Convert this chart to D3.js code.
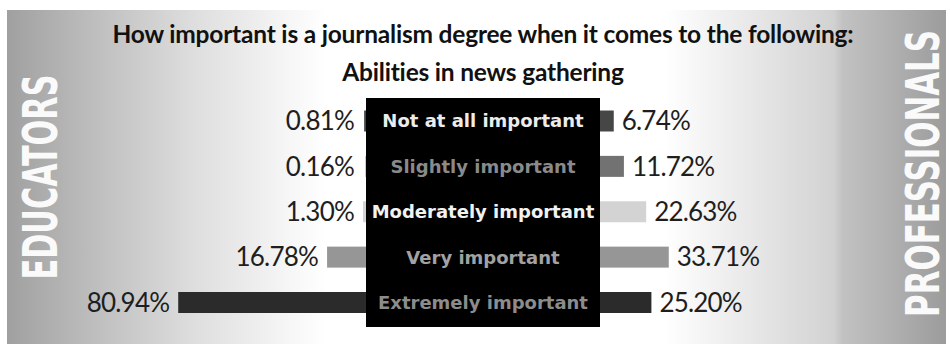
<!DOCTYPE html>
<html>
<head>
<meta charset="utf-8">
<script src="https://cdn.jsdelivr.net/npm/d3@7"></script>
<style>
  html, body { margin: 0; padding: 0; background: #fff; }
  svg { display: block; }
</style>
</head>
<body>
<div id="chart"></div>
<script>
// data
const categories = ["Not at all important", "Slightly important", "Moderately important", "Very important", "Extremely important"];
const educators = [0.81, 0.16, 1.30, 16.78, 80.94];
const professionals = [6.74, 11.72, 22.63, 33.71, 25.20];
const barColors = ["#464646", "#727272", "#d3d3d3", "#969696", "#2b2b2b"];
const labelColors = ["#ececec", "#8a8a8a", "#f2f2f2", "#a2a2a2", "#8c8c8c"];
const title = "How important is a journalism degree when it comes to the following:";
const subtitle = "Abilities in news gathering";

const width = 950, height = 345;
const box = {left: 366, right: 600, top: 98, bottom: 327};
const cx = (box.left + box.right) / 2;
const barH = 21;

const svg = d3.select("#chart").append("svg")
  .attr("width", width)
  .attr("height", height);

// background panel with grey fades at both sides
const grad = svg.append("defs").append("linearGradient")
  .attr("id", "bg")
  .attr("x1", "0%").attr("x2", "100%");
[[0, "#a0a0a0"], [0.1, "#c0c0c0"], [0.2, "#dedede"], [0.3, "#f6f6f6"], [0.34, "#ffffff"],
 [0.7, "#ffffff"], [0.78, "#ebebeb"], [0.88, "#d2d2d2"], [0.89, "#c2c2c2"], [1, "#9c9c9c"]]
  .forEach(d => grad.append("stop").attr("offset", d[0]).attr("stop-color", d[1]));

svg.append("rect")
  .attr("x", 7).attr("y", 10)
  .attr("width", 939).attr("height", 334)
  .attr("fill", "url(#bg)");

// scales
const y = d3.scalePoint().domain(categories).range([121, 302.5]);
const xLeft = d3.scaleLinear().domain([0, 100]).range([box.left, box.left - 232]);
const xRight = d3.scaleLinear().domain([0, 100]).range([box.right, box.right + 204]);

// title
svg.append("text")
  .attr("x", cx).attr("y", 43)
  .attr("text-anchor", "middle")
  .style("font", "bold 24.5px Lato")
  .style("letter-spacing", "-0.2px")
  .attr("fill", "#111")
  .text(title);

svg.append("text")
  .attr("x", cx).attr("y", 81)
  .attr("text-anchor", "middle")
  .style("font", "bold 24.5px Lato")
  .style("letter-spacing", "-0.2px")
  .attr("fill", "#111")
  .text(subtitle);

// side labels, squeezed along their length to the reference size
function sideLabel(text, x, yc, len, size) {
  const t = svg.append("text")
    .attr("text-anchor", "middle")
    .style("font", `bold ${size}px 'DejaVu Sans Condensed', 'DejaVu Sans'`)
    .attr("fill", "#fafafa")
    .text(text);
  const k = len / t.node().getComputedTextLength();
  t.attr("transform", `translate(${x},${yc}) rotate(-90) scale(${k},1)`);
}
sideLabel("EDUCATORS", 57, 177, 205, 48);
sideLabel("PROFESSIONALS", 939, 173.5, 287, 46);

// left bars (educators)
svg.append("g").selectAll("rect")
  .data(categories)
  .join("rect")
  .attr("x", (d, i) => xLeft(educators[i]))
  .attr("y", d => y(d) - barH / 2)
  .attr("width", (d, i) => box.left - xLeft(educators[i]))
  .attr("height", barH)
  .attr("fill", (d, i) => barColors[i]);

// right bars (professionals)
svg.append("g").selectAll("rect")
  .data(categories)
  .join("rect")
  .attr("x", box.right)
  .attr("y", d => y(d) - barH / 2)
  .attr("width", (d, i) => xRight(professionals[i]) - box.right)
  .attr("height", barH)
  .attr("fill", (d, i) => barColors[i]);

// value labels
svg.append("g").selectAll("text")
  .data(categories)
  .join("text")
  .attr("x", (d, i) => Math.min(xLeft(educators[i]), box.left - 3) - 9)
  .attr("y", d => y(d))
  .attr("dy", "0.36em")
  .attr("text-anchor", "end")
  .style("font", "26px Lato")
  .style("letter-spacing", "-0.8px")
  .attr("fill", "#1e1e1e")
  .text((d, i) => educators[i].toFixed(2) + "%");

svg.append("g").selectAll("text")
  .data(categories)
  .join("text")
  .attr("x", (d, i) => xRight(professionals[i]) + 8)
  .attr("y", d => y(d))
  .attr("dy", "0.36em")
  .style("font", "26px Lato")
  .style("letter-spacing", "-0.8px")
  .attr("fill", "#1e1e1e")
  .text((d, i) => professionals[i].toFixed(2) + "%");

// black centre box with category names
svg.append("rect")
  .attr("x", box.left).attr("y", box.top)
  .attr("width", box.right - box.left)
  .attr("height", box.bottom - box.top)
  .attr("fill", "#000");

svg.append("g").selectAll("text")
  .data(categories)
  .join("text")
  .attr("x", cx)
  .attr("y", d => y(d))
  .attr("dy", "0.36em")
  .attr("text-anchor", "middle")
  .style("font", "bold 18px 'DejaVu Sans'")
  .attr("fill", (d, i) => labelColors[i])
  .text(d => d);
</script>
</body>
</html>
